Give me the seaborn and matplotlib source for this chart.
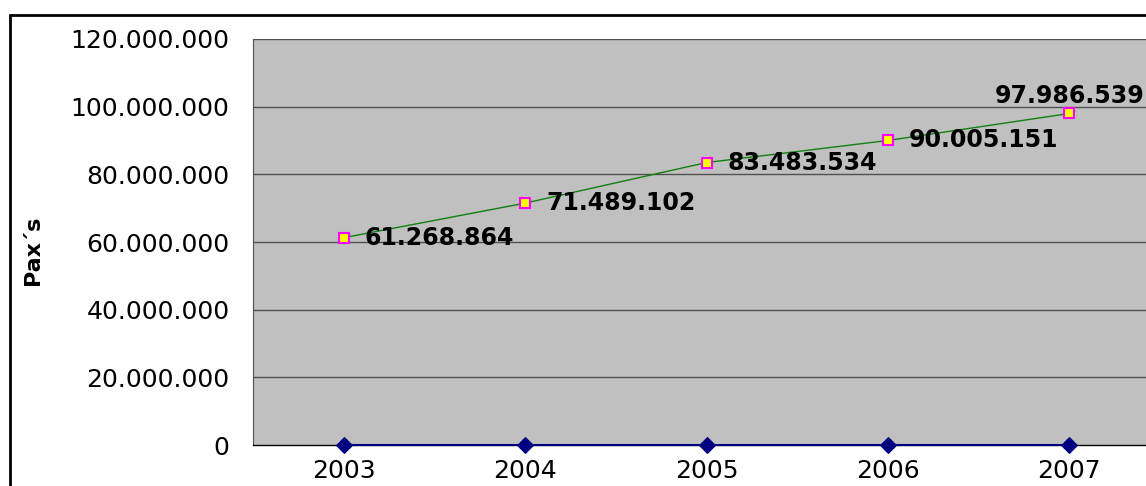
import seaborn as sns
import pandas as pd
import matplotlib.pyplot as plt
from matplotlib.patches import Rectangle
from matplotlib.ticker import FuncFormatter, FixedLocator

## Données
anos = ["2003", "2004", "2005", "2006", "2007"]
pax = [61268864, 71489102, 83483534, 90005151, 97986539]
base = [0, 0, 0, 0, 0]

df = pd.DataFrame({"pos": range(len(anos)), "ano": anos, "pax": pax, "base": base})

sns.set_style("white")
plt.rcParams["font.family"] = ["DejaVu Sans"]
plt.rcParams["text.color"] = "black"
plt.rcParams["xtick.color"] = "black"
plt.rcParams["ytick.color"] = "black"

fig = plt.figure(figsize=(11.46, 4.86), dpi=100)
ax = fig.add_axes([253 / 1146, 1 - 445 / 486, 907 / 1146, (445 - 39) / 486])
ax.set_facecolor("#C0C0C0")

## Cadre extérieur
fig.add_artist(Rectangle((10 / 1146, -0.2), 1.2, (1 - 15 / 486) + 0.2,
                         transform=fig.transFigure, fill=False,
                         edgecolor="black", linewidth=2, zorder=0))

for v in range(20000000, 120000001, 20000000):
    ax.axhline(v, color="#505050", linewidth=1, zorder=1)

sns.lineplot(data=df, x="pos", y="base", ax=ax, color="#000080", linewidth=1.5,
             marker="D", markersize=8, markeredgecolor="#000080", zorder=3, clip_on=False)
sns.lineplot(data=df, x="pos", y="pax", ax=ax, color="#108010", linewidth=1,
             marker="s", markersize=7, markerfacecolor="yellow",
             markeredgecolor="#FF00FF", markeredgewidth=1.5, zorder=4)

fmt = lambda v: f"{int(v):,}".replace(",", ".")
for i, v in enumerate(pax):
    if i == len(pax) - 1:
        ax.annotate(fmt(v), (i, v), xytext=(0, 4), textcoords="offset points",
                    ha="center", va="bottom", fontsize=17, fontweight="bold",
                    color="black", zorder=5)
    else:
        ax.annotate(fmt(v), (i, v), xytext=(15, 0), textcoords="offset points",
                    ha="left", va="center", fontsize=17, fontweight="bold",
                    color="black", zorder=5)

ax.set_xlim(-0.5, 4.5)
ax.set_ylim(0, 120000000)
ax.set_yticks(range(0, 120000001, 20000000))
ax.yaxis.set_major_formatter(FuncFormatter(lambda v, p: fmt(v)))
ax.set_xticks(range(len(anos)))
ax.set_xticklabels(anos)
ax.xaxis.set_minor_locator(FixedLocator([0.5, 1.5, 2.5, 3.5]))
ax.tick_params(axis="x", which="major", length=0, labelsize=18, pad=10)
ax.tick_params(axis="x", which="minor", length=6, color="#505050", width=1)
ax.tick_params(axis="y", length=8, color="#505050", width=1, labelsize=18, pad=9)
ax.tick_params(axis="both", direction="out")

ax.set_xlabel("")
ax.set_ylabel("Pax´s", fontsize=16, fontweight="bold", color="black")
ax.yaxis.set_label_coords(-0.232, 0.48)

for s in ["top", "right"]:
    ax.spines[s].set_visible(False)
ax.spines["left"].set_color("#505050")
ax.spines["bottom"].set_color("black")
ax.spines["bottom"].set_linewidth(1)

fig.savefig("out.png", dpi=100)
